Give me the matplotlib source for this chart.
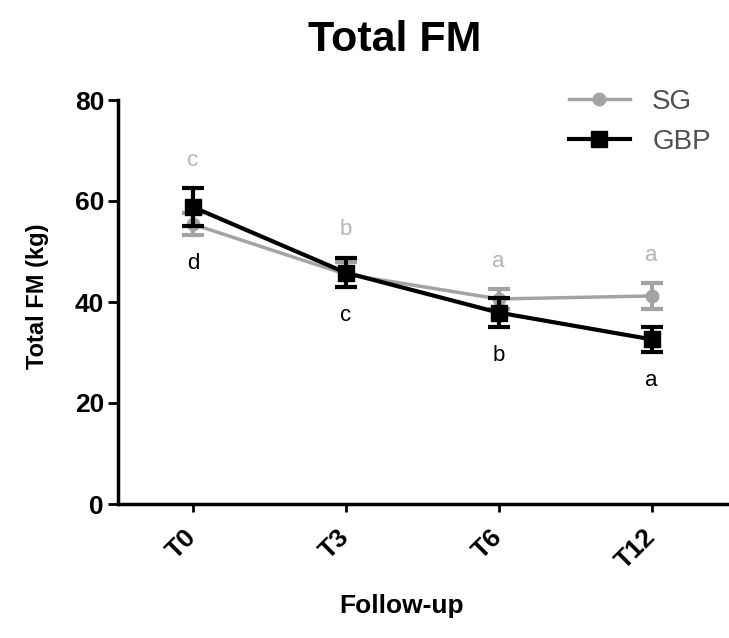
import matplotlib
matplotlib.use("Agg")
import matplotlib.pyplot as plt
from matplotlib.lines import Line2D

# === DATA ===
timepoints = ["T0", "T3", "T6", "T12"]
sg_mean    = [55.4, 45.5, 40.6, 41.2]
sg_err     = [2.2, 2.5, 1.9, 2.5]
gbp_mean   = [58.8, 45.8, 37.9, 32.6]
gbp_err    = [3.7, 2.9, 2.9, 2.5]
sg_letters  = ["c", "b", "a", "a"]
gbp_letters = ["d", "c", "b", "a"]

SG_COLOR  = "#a3a3a3"
GBP_COLOR = "#000000"
LETTER_GAP = 5.6   # kg between bar end and letter centre

plt.rcParams['font.family'] = ['Liberation Sans', 'DejaVu Sans']

fig = plt.figure(figsize=(7.29, 6.38), dpi=100)
ax = fig.add_axes([118/729, 1 - 504/638, 610/729, 404/638])

xs = list(range(len(timepoints)))

ax.errorbar(xs, sg_mean, yerr=sg_err, color=SG_COLOR, lw=2.5,
            marker='o', markersize=9, elinewidth=3, capsize=8, capthick=3,
            zorder=2)
ax.errorbar(xs, gbp_mean, yerr=gbp_err, color=GBP_COLOR, lw=3,
            marker='s', markersize=11, elinewidth=3, capsize=8, capthick=3,
            zorder=3)

# significance letters
for i in xs:
    top = max(sg_mean[i] + sg_err[i], gbp_mean[i] + gbp_err[i])
    bot = min(sg_mean[i] - sg_err[i], gbp_mean[i] - gbp_err[i])
    ax.text(i, top + LETTER_GAP, sg_letters[i], color="#b5b5b5",
            fontsize=16, ha='center', va='center')
    ax.text(i, bot - LETTER_GAP, gbp_letters[i], color="black",
            fontsize=16, ha='center', va='center')

ax.set_xlim(-0.49, 3.5)
ax.set_ylim(0, 80)
ax.set_yticks([0, 20, 40, 60, 80])
ax.set_xticks(xs)
ax.set_xticklabels(timepoints, rotation=45, ha='right', va='center',
                   rotation_mode='anchor', fontweight='bold', fontsize=19)
for lab in ax.get_yticklabels():
    lab.set_fontweight('bold')
    lab.set_fontsize(19)

ax.spines['top'].set_visible(False)
ax.spines['right'].set_visible(False)
ax.spines['left'].set_linewidth(2.5)
ax.spines['bottom'].set_linewidth(2.5)
ax.tick_params(axis='both', width=2, length=7, pad=3)
ax.tick_params(axis='x', length=6, pad=15)

fig.text(0.542, 0.937, "Total FM", fontsize=31, fontweight='bold',
         ha='center', va='center')
fig.text(0.551, 0.05, "Follow-up", fontsize=19, fontweight='bold',
         ha='center', va='center')
fig.text(0.051, 0.535, "Total FM (kg)", fontsize=17, fontweight='bold',
         ha='center', va='center', rotation=90)

handles = [
    Line2D([], [], color=SG_COLOR, lw=2.5, marker='o', markersize=9),
    Line2D([], [], color=GBP_COLOR, lw=3, marker='s', markersize=11),
]
leg = ax.legend(handles, ["SG", "GBP"], loc='upper left',
                bbox_to_anchor=(555/729, 1 - 75/638),
                bbox_transform=fig.transFigure, frameon=False,
                fontsize=20, handlelength=2.2, labelspacing=0.5,
                handletextpad=0.8, borderpad=0)
for t in leg.get_texts():
    t.set_color("#505050")

fig.savefig("out.png", dpi=100)
